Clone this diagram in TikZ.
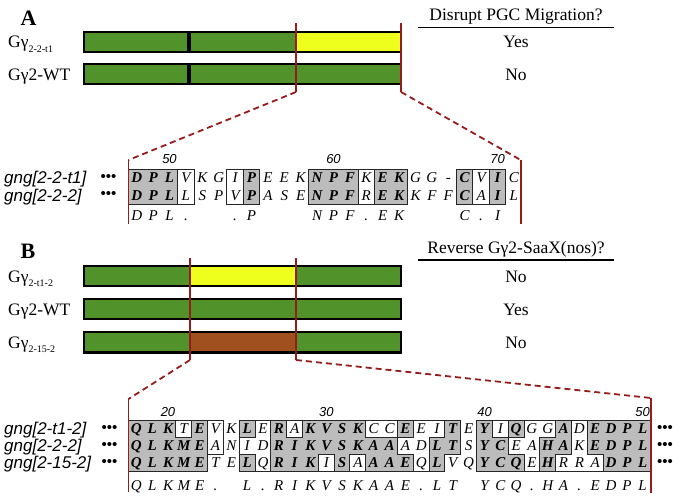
\documentclass[tikz,border=0pt]{standalone}
\usepackage{fontspec}
\setmainfont{Liberation Serif}
\setsansfont{Liberation Sans}
\definecolor{bargreen}{RGB}{82,146,43}
\definecolor{baryellow}{RGB}{238,255,30}
\definecolor{barbrown}{RGB}{160,80,30}
\definecolor{zoomred}{RGB}{150,28,28}
\definecolor{cellgray}{RGB}{188,188,188}
\newcommand\alnSetState[4]{\expandafter\xdef\csname alst-#1-#2-#3\endcsname{#4}}
\newcommand\alnGetState[3]{\ifcsname alst-#1-#2-#3\endcsname\edef\alncur{\csname alst-#1-#2-#3\endcsname}\else\def\alncur{N}\fi}
\newcommand\alnRow[7]{%
  \foreach \aS/\aL [count=\aC] in {#7}{%
    \alnSetState{#1}{#2}{\aC}{\aS}%
    \pgfmathsetmacro\aXl{#3+(\aC-1)*#5}%
    \pgfmathsetmacro\aXc{#3+(\aC-0.5)*#5}%
    \pgfmathsetmacro\aYb{#4+0.5*#6+5.2}%
    \if\aS G%
      \fill[cellgray] (\aXl,#4) rectangle ++(#5,#6);%
      \node[gres] (#1-#2-\aC) at (\aXc,\aYb) {\aL};%
    \else
      \node[ores] (#1-#2-\aC) at (\aXc,\aYb) {\aL};%
    \fi}}
\newcommand\alnEdges[7]{%
  \foreach \eR in {0,...,#2}{\foreach \eC in {0,...,#3}{%
    \alnGetState{#1}{\eR}{\eC}\let\eA\alncur
    \pgfmathtruncatemacro\eCn{\eC+1}\pgfmathtruncatemacro\eRn{\eR+1}%
    \alnGetState{#1}{\eR}{\eCn}\let\eB\alncur
    \alnGetState{#1}{\eRn}{\eC}\let\eD\alncur
    \ifx\eA\eB\else\ifnum\eR>0 \draw[celledge] ({#4+\eC*#6},{#5+(\eR-1)*#7}) -- ++(0,#7);\fi\fi
    \ifx\eA\eD\else\ifnum\eC>0 \draw[celledge] ({#4+(\eC-1)*#6},{#5+\eR*#7}) -- ++(#6,0);\fi\fi
  }}}
\newcommand\drawbar[3]{%
  \fill[black] (83,#1) rectangle (402,#2);
  \foreach \xa/\xb/\col in {#3}{\fill[\col] (\xa,{#1+2.2}) rectangle (\xb,{#2-2.2});}}
\begin{document}
\begin{tikzpicture}[x=1pt,y=-1pt,
  zoomline/.style={draw=zoomred, line width=1.6pt},
  zoomdash/.style={draw=zoomred, line width=1.8pt, dash pattern=on 6pt off 4pt},
  gres/.style={font=\fontsize{15}{15}\selectfont\bfseries\itshape, inner sep=0pt, anchor=base},
  ores/.style={font=\fontsize{15}{15}\selectfont\itshape, inner sep=0pt, anchor=base},
  celledge/.style={draw=black!85, line width=1pt, line cap=rect},
  rowlabel/.style={font=\sffamily\itshape\fontsize{17}{17}\selectfont, anchor=base west, inner sep=0pt},
  dotsty/.style={font=\sffamily\fontsize{15}{15}\selectfont, inner sep=0pt},
  posnum/.style={font=\sffamily\itshape\fontsize{13}{13}\selectfont, inner sep=0pt},
  gname/.style={font=\fontsize{17.5}{18}\selectfont, anchor=base west, inner sep=0pt},
  answer/.style={font=\fontsize{17.5}{18}\selectfont, anchor=base, inner sep=0pt},
  panel/.style={font=\bfseries\fontsize{22}{22}\selectfont, inner sep=0pt},
  uline/.style={draw=black, line width=1.4pt}]
\useasboundingbox (0,0) rectangle (681,501);
% ---------------- Panel A ----------------
\node[panel] (pA) at (28.5,18) {A};
\node[gname] (lA1) at (8,47.8) {Gγ\raisebox{-4.5pt}{\fontsize{10}{10}\selectfont 2-2-t1}};
\node[gname] (lA2) at (8,80) {Gγ2-WT};
\drawbar{30.5}{53}{85.2/187/bargreen,191/294.5/bargreen,296.7/399.8/baryellow}
\drawbar{62.5}{85.3}{85.2/187/bargreen,191/294.5/bargreen,296.7/399.8/bargreen}
\node[answer] (hA) at (516,20) {Disrupt PGC Migration?};
\coordinate (uA1) at (418,27.5); \coordinate (uA2) at (614,27.5);
\draw[uline] (uA1) -- (uA2);
\node[answer] (aA1) at (516,47.8) {Yes};
\node[answer] (aA2) at (516,80) {No};
% alignment A
\node[rowlabel] (nA1) at (4,183.9) {gng[2-2-t1]};
\node[rowlabel] (nA2) at (4,201.4) {gng[2-2-2]};
\node[dotsty] (dA1) at (108.5,177.75) {•••};
\node[dotsty] (dA2) at (108.5,195.25) {•••};
\node[posnum] (kA50) at (169.5,159) {50};
\node[posnum] (kA60) at (333.5,159) {60};
\node[posnum] (kA70) at (497.5,159) {70};
\alnRow{A}{1}{128.5}{169}{16.4}{17.5}{G/D,G/P,G/L,W/V,N/K,N/G,W/I,G/P,N/E,N/E,N/K,G/N,G/P,G/F,W/K,G/E,G/K,N/G,N/G,N/-,G/C,W/V,G/I,N/C}
\alnRow{A}{2}{128.5}{186.5}{16.4}{17.5}{G/D,G/P,G/L,W/L,N/S,N/P,W/V,G/P,N/A,N/S,N/E,G/N,G/P,G/F,W/R,G/E,G/K,N/K,N/F,N/F,G/C,W/A,G/I,N/L}
\alnEdges{A}{2}{24}{128.5}{169}{16.4}{17.5}
\foreach \aC/\aL in {1/D,2/P,3/L,4/.,7/.,8/P,12/N,13/P,14/F,15/.,16/E,17/K,21/C,22/.,23/I}{%
  \node[ores] (Acons-\aC) at ({128.5+(\aC-0.5)*16.4},220) {\aL};}
% zoom lines A
\coordinate (zAl1) at (296,23); \coordinate (zAl2) at (296,92);
\coordinate (zAl3) at (128.5,160); \coordinate (zAl4) at (128.5,224);
\coordinate (zAr1) at (401,23); \coordinate (zAr2) at (401,92);
\coordinate (zAr3) at (520.7,160); \coordinate (zAr4) at (520.7,224);
\draw[zoomline] (zAl1) -- (zAl2); \draw[zoomdash] (zAl2) -- (zAl3); \draw[zoomline] (zAl3) -- (zAl4);
\draw[zoomline] (zAr1) -- (zAr2); \draw[zoomdash] (zAr2) -- (zAr3); \draw[zoomline] (zAr3) -- (zAr4);
% ---------------- Panel B ----------------
\node[panel] (pB) at (28,251.5) {B};
\node[gname] (lB1) at (8,282) {Gγ\raisebox{-4.5pt}{\fontsize{10}{10}\selectfont 2-t1-2}};
\node[gname] (lB2) at (8,315) {Gγ2-WT};
\node[gname] (lB3) at (8,348) {Gγ\raisebox{-4.5pt}{\fontsize{10}{10}\selectfont 2-15-2}};
\drawbar{264.5}{287}{85.2/188.9/bargreen,191.1/294.9/baryellow,297.1/399.8/bargreen}
\drawbar{297.8}{320.3}{85.2/188.9/bargreen,191.1/294.9/bargreen,297.1/399.8/bargreen}
\drawbar{331}{353.5}{85.2/188.9/bargreen,191.1/294.9/barbrown,297.1/399.8/bargreen}
\node[answer] (hB) at (516,253) {Reverse Gγ2-SaaX(nos)?};
\coordinate (uB1) at (418,260); \coordinate (uB2) at (614,260);
\draw[uline] (uB1) -- (uB2);
\node[answer] (aB1) at (516,282) {No};
\node[answer] (aB2) at (516,315) {Yes};
\node[answer] (aB3) at (516,348) {No};
% alignment B
\node[rowlabel] (nB1) at (4,434.6) {gng[2-t1-2]};
\node[rowlabel] (nB2) at (4,451.6) {gng[2-2-2]};
\node[rowlabel] (nB3) at (4,468.6) {gng[2-15-2]};
\node[dotsty] (dB1) at (109.5,428.5) {•••};
\node[dotsty] (dB2) at (109.5,445.5) {•••};
\node[dotsty] (dB3) at (109.5,462.5) {•••};
\node[dotsty] (eB1) at (665,428.5) {•••};
\node[dotsty] (eB2) at (665,445.5) {•••};
\node[dotsty] (eB3) at (665,462.5) {•••};
\node[posnum] (kB20) at (168,412) {20};
\node[posnum] (kB30) at (326.3,412) {30};
\node[posnum] (kB40) at (484.5,412) {40};
\node[posnum] (kB50) at (642.7,412) {50};
\alnRow{B}{1}{128.5}{420}{15.82}{17}{G/Q,G/L,G/K,W/T,G/E,W/V,N/K,G/L,W/E,G/R,W/A,G/K,G/V,G/S,G/K,W/C,W/C,G/E,W/E,W/I,G/T,N/E,G/Y,W/I,G/Q,W/G,W/G,G/A,W/D,G/E,G/D,G/P,G/L}
\alnRow{B}{2}{128.5}{437}{15.82}{17}{G/Q,G/L,G/K,G/M,G/E,W/A,N/N,W/I,W/D,G/R,G/I,G/K,G/V,G/S,G/K,G/A,G/A,W/A,W/D,G/L,G/T,N/S,G/Y,G/C,W/E,W/A,G/H,G/A,W/K,G/E,G/D,G/P,G/L}
\alnRow{B}{3}{128.5}{454}{15.82}{17}{G/Q,G/L,G/K,G/M,G/E,N/T,N/E,G/L,W/Q,G/R,G/I,G/K,W/I,G/S,W/A,G/A,G/A,G/E,W/Q,G/L,N/V,N/Q,G/Y,G/C,G/Q,W/E,G/H,W/R,W/R,W/A,G/D,G/P,G/L}
\alnEdges{B}{3}{33}{128.5}{420}{15.82}{17}
\foreach \aC/\aL in {1/Q,2/L,3/K,4/M,5/E,6/.,8/L,9/.,10/R,11/I,12/K,13/V,14/S,15/K,16/A,17/A,18/E,19/.,20/L,21/T,23/Y,24/C,25/Q,26/.,27/H,28/A,29/.,30/E,31/D,32/P,33/L}{%
  \node[ores] (Bcons-\aC) at ({128.5+(\aC-0.5)*15.82},490) {\aL};}
% zoom lines B
\coordinate (zBl1) at (190,258); \coordinate (zBl2) at (190,360);
\coordinate (zBl3) at (128.5,399); \coordinate (zBl4) at (128.5,492);
\coordinate (zBr1) at (296,258); \coordinate (zBr2) at (296,360);
\coordinate (zBr3) at (651,398); \coordinate (zBr4) at (651,493);
\draw[zoomline] (zBl1) -- (zBl2); \draw[zoomdash] (zBl2) -- (zBl3); \draw[zoomline] (zBl3) -- (zBl4);
\draw[zoomline] (zBr1) -- (zBr2); \draw[zoomdash] (zBr2) -- (zBr3); \draw[zoomline] (zBr3) -- (zBr4);
\end{tikzpicture}
\end{document}
